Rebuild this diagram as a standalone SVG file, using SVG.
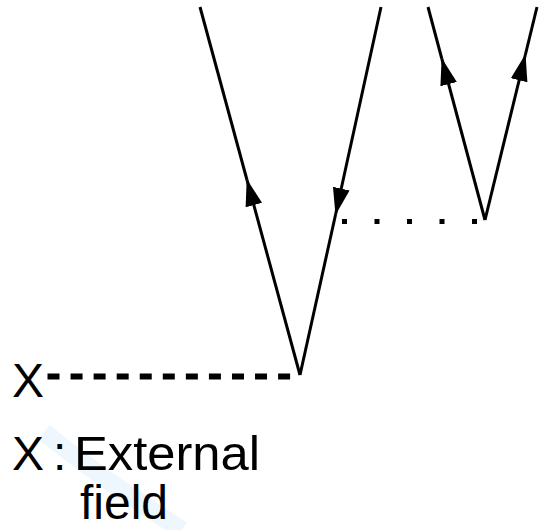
<svg xmlns="http://www.w3.org/2000/svg" width="539" height="530" viewBox="0 0 539 530">
  <style>
    .ln { stroke: #000; stroke-width: 3; fill: none; }
    .lbl { font-family: "Liberation Sans", Arial, sans-serif; font-size: 48px; fill: #000; }
  </style>
  <defs>
    <marker id="arr" markerUnits="userSpaceOnUse" markerWidth="30" markerHeight="20" refX="26" refY="8.5" orient="auto">
      <path d="M0,0 L27,8.5 L0,17 z" fill="#000"/>
    </marker>
  </defs>
  <rect width="539" height="530" fill="#fff"/>
  <path d="M44,432 Q100,478 182,530" stroke="#eef7fd" stroke-width="18" fill="none"/>
  <g id="connectors">
    <line class="ln" x1="300" y1="375" x2="247" y2="180" marker-end="url(#arr)"/>
    <line class="ln" x1="247" y1="180" x2="200" y2="7"/>
    <line class="ln" x1="381" y1="7" x2="335.7" y2="214" marker-end="url(#arr)"/>
    <line class="ln" x1="335.7" y1="214" x2="300" y2="375"/>
    <line class="ln" x1="485" y1="220" x2="441.9" y2="59" marker-end="url(#arr)"/>
    <line class="ln" x1="441.9" y1="59" x2="428" y2="7"/>
    <line class="ln" x1="485" y1="220" x2="525.3" y2="55" marker-end="url(#arr)"/>
    <line class="ln" x1="525.3" y1="55" x2="537" y2="7"/>
    <line x1="342" y1="221.5" x2="479" y2="221.5" stroke="#000" stroke-width="5" stroke-dasharray="5 27.5"/>
    <line x1="47.5" y1="376.5" x2="291" y2="376.5" stroke="#000" stroke-width="6" stroke-dasharray="12 11.06"/>
  </g>
  <g id="x-node">
    <text class="lbl" x="12" y="397">X</text>
  </g>
  <g id="legend">
    <text class="lbl" x="12" y="470">X</text>
    <text class="lbl" x="53" y="470">:</text>
    <text class="lbl" x="74" y="470" textLength="186" lengthAdjust="spacingAndGlyphs">External</text>
    <text class="lbl" x="80" y="519">field</text>
  </g>
</svg>
